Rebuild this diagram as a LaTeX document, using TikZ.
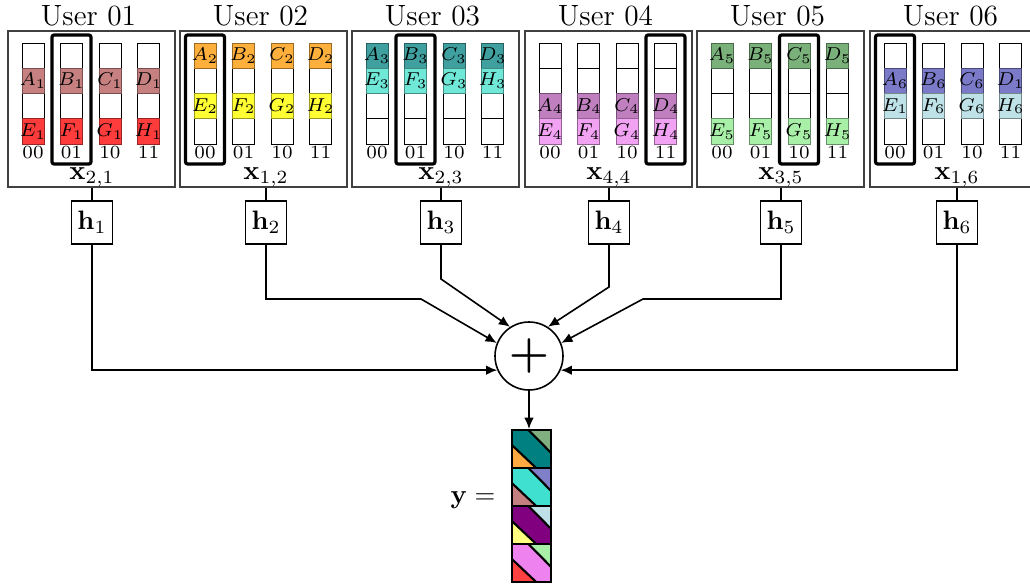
\documentclass[tikz,border=0pt]{standalone}
\usetikzlibrary{arrows.meta,calc}
\definecolor{pA1}{RGB}{198,128,128}
\definecolor{pE1}{RGB}{255,60,60}
\definecolor{pA2}{RGB}{255,176,60}
\definecolor{pE2}{RGB}{255,255,51}
\definecolor{pA3}{RGB}{64,160,160}
\definecolor{pE3}{RGB}{112,232,216}
\definecolor{pA4}{RGB}{192,128,192}
\definecolor{pE4}{RGB}{242,162,242}
\definecolor{pA5}{RGB}{122,176,122}
\definecolor{pE5}{RGB}{168,240,168}
\definecolor{pA6}{RGB}{122,122,200}
\definecolor{pE6}{RGB}{190,226,232}
\definecolor{vTRa}{RGB}{128,176,128}
\definecolor{vMa}{RGB}{0,128,128}
\definecolor{vBLa}{RGB}{255,170,64}
\definecolor{vTRb}{RGB}{128,128,200}
\definecolor{vMb}{RGB}{64,224,208}
\definecolor{vBLb}{RGB}{196,128,128}
\definecolor{vTRc}{RGB}{192,224,232}
\definecolor{vMc}{RGB}{128,0,128}
\definecolor{vBLc}{RGB}{255,255,128}
\definecolor{vTRd}{RGB}{168,240,168}
\definecolor{vMd}{RGB}{238,130,238}
\definecolor{vBLd}{RGB}{255,64,64}
\newcommand{\upLetTop}[1]{\ifcase#1 A\or B\or C\or D\fi}
\newcommand{\upLetBot}[1]{\ifcase#1 E\or F\or G\or H\fi}
\newcommand{\upBits}[1]{\ifcase#1 00\or 01\or 10\or 11\fi}
% #1 user, #2 left edge, #3 selected column, #4 row of A, #5 row of E,
% #6 subscripts top, #7 subscripts bottom, #8 x subscript, #9 x of h
\newcommand{\userpanel}[9]{%
  \node[panel] (p#1) at (#2+83.5,109) {};
  \node[title] (t#1) at (#2+80.5,15.5) {User 0#1};
  \foreach \k in {0,1,2,3}{%
    \pgfmathsetmacro\cx{#2+25+38.5*\k}%
    \foreach \r in {0,1,2,3}{\draw[cell] (\cx-11,43+25.25*\r) rectangle ++(22,25.25);}%
    \draw[cell,draw=pA#1!60!black,fill=pA#1] (\cx-11,43+25.25*#4) rectangle ++(22,25.25);
    \draw[cell,draw=pE#1!60!black,fill=pE#1] (\cx-11,43+25.25*#5) rectangle ++(22,25.25);
    \pgfmathtruncatemacro\sa{{#6}[\k]}%
    \pgfmathtruncatemacro\se{{#7}[\k]}%
    \node[celltxt] (a#1\k) at (\cx,43+25.25*#4+12.6) {$\upLetTop{\k}_{\sa}$};
    \node[celltxt] (e#1\k) at (\cx,43+25.25*#5+12.6) {$\upLetBot{\k}_{\se}$};
    \node[celltxt] (b#1\k) at (\cx,152) {\upBits{\k}};
  }
  \pgfmathsetmacro\sx{#2+25+38.5*#3}
  \draw[selbox] (\sx-19.5,35) rectangle (\sx+19.5,164);
  \node[lbl] (x#1) at (#9,177) {$\mathbf{x}_{#8}$};
  \node[hbox] (h#1) at (#9,222.5) {$\mathbf{h}_{#1}$};
  \draw[conn] (p#1.south -| h#1) -- (h#1.north);
}
\begin{document}
\begin{tikzpicture}[x=0.375pt,y=-0.375pt,
  panel/.style={draw=black!75,line width=0.5pt,minimum width=62.6pt,minimum height=58.5pt,inner sep=0pt},
  cell/.style={draw=black,line width=0.35pt},
  selbox/.style={draw=black,line width=1.2pt,rounded corners=0.8pt},
  hbox/.style={draw=black,line width=0.6pt,minimum width=15.4pt,minimum height=16.1pt,inner sep=0pt,font=\fontsize{10}{12}\selectfont},
  title/.style={font=\fontsize{11}{13}\selectfont,inner sep=0pt},
  celltxt/.style={font=\fontsize{7}{8}\selectfont,inner sep=0pt},
  lbl/.style={font=\fontsize{10}{12}\selectfont,inner sep=0pt},
  conn/.style={line width=0.6pt},
  arr/.style={conn,-{Latex[length=4.2pt,width=3.6pt]}},
  vline/.style={line width=0.8pt}]
\clip (0,0) rectangle (1030,586);
\fill[white] (0,0) rectangle (1030,586);
\userpanel{1}{8}{1}{1}{3}{1,1,1,1}{1,1,1,1}{2,1}{92}
\userpanel{2}{180}{0}{0}{2}{2,2,2,2}{2,2,2,2}{1,2}{266}
\userpanel{3}{352}{1}{0}{1}{3,3,3,3}{3,3,3,3}{2,3}{441}
\userpanel{4}{525}{3}{2}{3}{4,4,4,4}{4,4,4,4}{4,4}{609}
\userpanel{5}{697}{2}{0}{3}{5,5,5,5}{5,5,5,5}{3,5}{781}
\userpanel{6}{870}{0}{1}{2}{6,6,6,1}{1,6,6,6}{1,6}{957}
% sum
\node[circle,draw,line width=0.6pt,minimum size=25.5pt,inner sep=0pt,font=\fontsize{19}{19}\selectfont\boldmath] (sum) at (529,356) {$+$};
\coordinate (c2) at (421,299);
\coordinate (c3) at (441,279);
\coordinate (c4) at (609,287);
\coordinate (c5) at (643,299);
\draw[arr] (h1.south) |- (sum.204);
\draw[arr] (h2.south) |- (c2) -- (sum.158);
\draw[arr] (h3.south) -- (c3) -- (sum.123);
\draw[arr] (h4.south) -- (c4) -- (sum.57);
\draw[arr] (h5.south) |- (c5) -- (sum.22);
\draw[arr] (h6.south) |- (sum.-24);
% output vector
\foreach \k/\ctr/\cm/\cbl in {0/vTRa/vMa/vBLa,1/vTRb/vMb/vBLb,2/vTRc/vMc/vBLc,3/vTRd/vMd/vBLd}{
  \pgfmathsetmacro\yt{430+38*\k}
  \fill[\ctr] (528.4,\yt) -- (551,\yt) -- (551,\yt+22.8) -- cycle;
  \fill[\cm] (512,\yt) -- (528.4,\yt) -- (551,\yt+22.8) -- (551,\yt+38) -- (536.2,\yt+38) -- (512,\yt+15.2) -- cycle;
  \fill[\cbl] (512,\yt+15.2) -- (536.2,\yt+38) -- (512,\yt+38) -- cycle;
  \draw[vline] (528.4,\yt) -- (551,\yt+22.8) (512,\yt+15.2) -- (536.2,\yt+38);
  \draw[vline] (512,\yt) rectangle (551,\yt+38);
}
\node[draw,line width=0.8pt,minimum width=14.625pt,minimum height=57pt,inner sep=0pt] (vec) at (531.5,506) {};
\draw[arr] (sum.south) -- (sum.south |- vec.north);
\node[lbl,anchor=base east] (ylab) at (496,503) {$\mathbf{y} =$};
\end{tikzpicture}
\end{document}
